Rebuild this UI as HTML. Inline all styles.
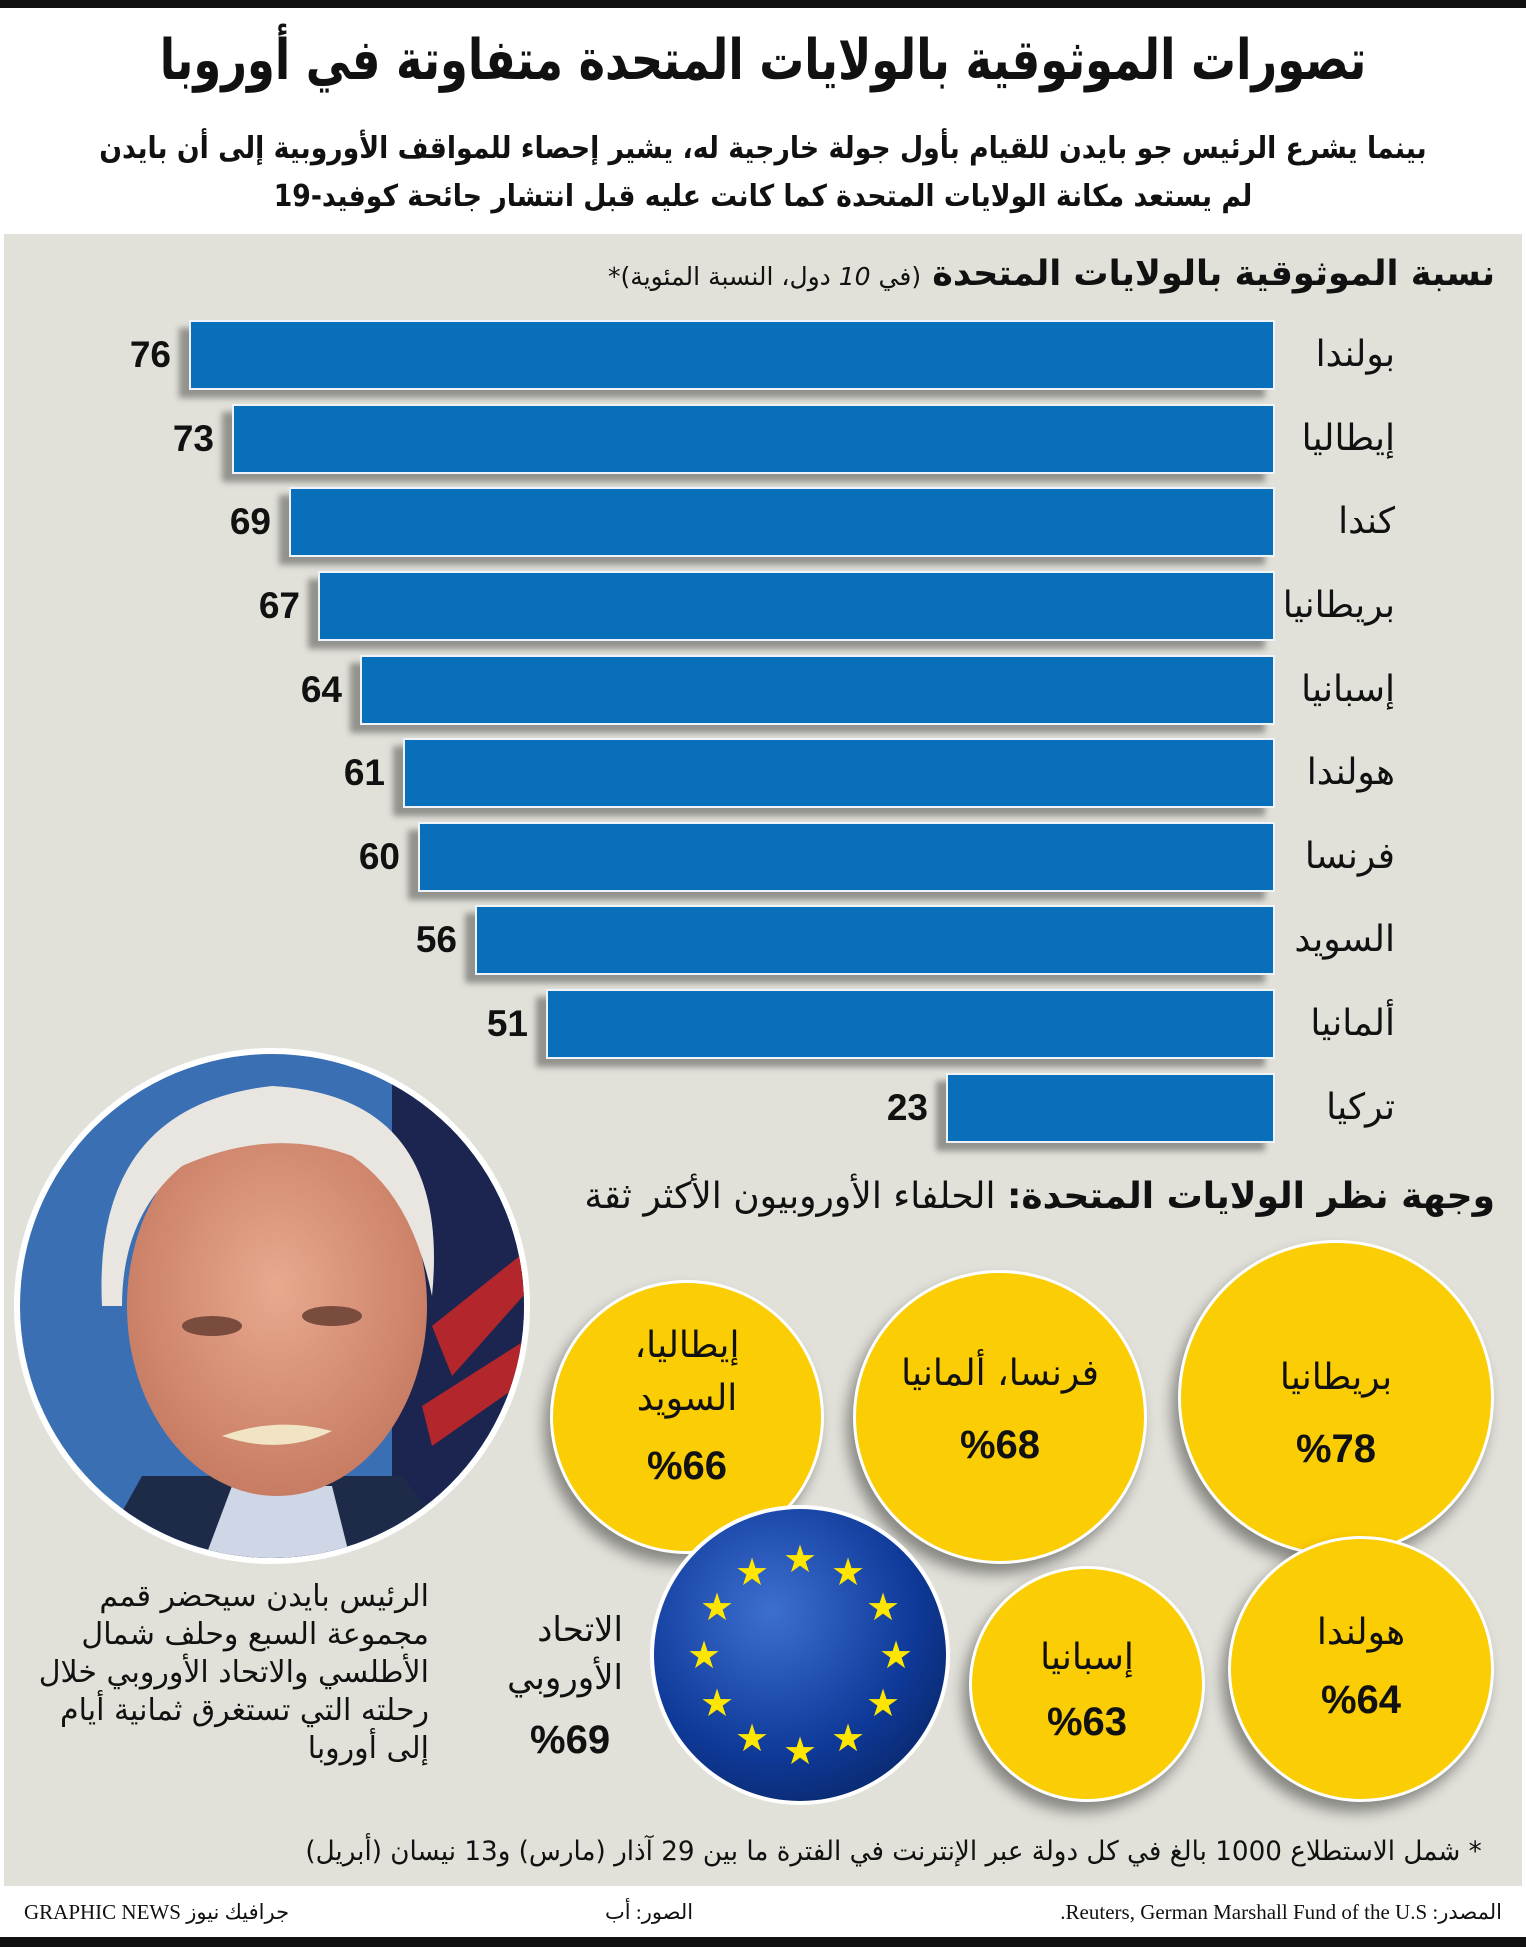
<!DOCTYPE html>
<html><head><meta charset="utf-8">
<style>
*{margin:0;padding:0;box-sizing:border-box}
body{width:1526px;height:1947px;background:#fff;position:relative;overflow:hidden;font-family:"DejaVu Sans","Liberation Sans",sans-serif;color:#111}
.a{position:absolute;white-space:nowrap}
.r{direction:rtl;text-align:right}
.bar{position:absolute;background:#0a6fba;border:2px solid #eef4fa;box-shadow:-10px 8px 6px rgba(0,0,0,.35)}
.lab{position:absolute;right:131px;font-size:36px;direction:rtl;line-height:40px}
.val{position:absolute;font-family:"Liberation Sans",sans-serif;font-weight:bold;font-size:37px;line-height:40px;text-align:right;width:100px}
.c{position:absolute;border-radius:50%;background:#fbcd05;border:3px solid #fff;box-shadow:-6px 10px 14px rgba(0,0,0,.4)}
.ct{position:absolute;width:100%;text-align:center;direction:rtl;font-size:36px;line-height:40px}
.cp{position:absolute;width:100%;text-align:center;font-family:"Liberation Sans",sans-serif;font-weight:bold;font-size:40px;line-height:44px}
</style></head><body>
<div class="a" style="left:0;top:0;width:1526px;height:8px;background:#111"></div>
<div class="a r" style="left:0;width:1526px;text-align:center;top:26px;font-size:56px;font-weight:bold;line-height:70px;transform:scaleX(0.8);transform-origin:763px 0">تصورات الموثوقية بالولايات المتحدة متفاوتة في أوروبا</div>
<div class="a r" style="left:0;width:1526px;text-align:center;top:128px;font-size:30px;font-weight:bold;line-height:42px;transform:scaleX(0.89);transform-origin:763px 0">بينما يشرع الرئيس جو بايدن للقيام بأول جولة خارجية له، يشير إحصاء للمواقف الأوروبية إلى أن بايدن</div>
<div class="a r" style="left:0;width:1526px;text-align:center;top:176px;font-size:30px;font-weight:bold;line-height:42px;transform:scaleX(0.89);transform-origin:763px 0">لم يستعد مكانة الولايات المتحدة كما كانت عليه قبل انتشار جائحة كوفيد-19</div>
<div class="a" style="left:4px;top:234px;width:1518px;height:1652px;background:#e1e0d9"></div>
<div class="a r" style="right:31px;top:252px;font-size:35px;line-height:44px"><b>نسبة الموثوقية بالولايات المتحدة</b> <span style="font-size:25px">(في <i>10</i> دول، النسبة المئوية)*</span></div>

<div class="bar" style="left:189px;top:320px;width:1086px;height:70px"></div>
<div class="bar" style="left:232px;top:404px;width:1043px;height:70px"></div>
<div class="bar" style="left:289px;top:487px;width:986px;height:70px"></div>
<div class="bar" style="left:318px;top:571px;width:957px;height:70px"></div>
<div class="bar" style="left:360px;top:655px;width:915px;height:70px"></div>
<div class="bar" style="left:403px;top:738px;width:872px;height:70px"></div>
<div class="bar" style="left:418px;top:822px;width:857px;height:70px"></div>
<div class="bar" style="left:475px;top:905px;width:800px;height:70px"></div>
<div class="bar" style="left:546px;top:989px;width:729px;height:70px"></div>
<div class="bar" style="left:946px;top:1073px;width:329px;height:70px"></div>

<div class="lab" style="top:335px">بولندا</div>
<div class="lab" style="top:419px">إيطاليا</div>
<div class="lab" style="top:502px">كندا</div>
<div class="lab" style="top:586px">بريطانيا</div>
<div class="lab" style="top:670px">إسبانيا</div>
<div class="lab" style="top:753px">هولندا</div>
<div class="lab" style="top:837px">فرنسا</div>
<div class="lab" style="top:920px">السويد</div>
<div class="lab" style="top:1004px">ألمانيا</div>
<div class="lab" style="top:1088px">تركيا</div>

<div class="val" style="left:71px;top:335px">76</div>
<div class="val" style="left:114px;top:419px">73</div>
<div class="val" style="left:171px;top:502px">69</div>
<div class="val" style="left:200px;top:586px">67</div>
<div class="val" style="left:242px;top:670px">64</div>
<div class="val" style="left:285px;top:753px">61</div>
<div class="val" style="left:300px;top:837px">60</div>
<div class="val" style="left:357px;top:920px">56</div>
<div class="val" style="left:428px;top:1004px">51</div>
<div class="val" style="left:828px;top:1088px">23</div>

<div class="a r" style="right:31px;top:1174px;font-size:36px;line-height:46px"><b>وجهة نظر الولايات المتحدة:</b> الحلفاء الأوروبيون الأكثر ثقة</div>

<div class="c" style="left:1178px;top:1240px;width:316px;height:316px"><div class="ct" style="top:115px">بريطانيا</div><div class="cp" style="top:184px">%78</div></div>
<div class="c" style="left:853px;top:1270px;width:294px;height:294px"><div class="ct" style="top:81px">فرنسا، ألمانيا</div><div class="cp" style="top:150px">%68</div></div>
<div class="c" style="left:550px;top:1280px;width:274px;height:274px"><div class="ct" style="top:43px">إيطاليا،</div><div class="ct" style="top:96px">السويد</div><div class="cp" style="top:161px">%66</div></div>
<div class="c" style="left:1228px;top:1536px;width:266px;height:266px"><div class="ct" style="top:74px">هولندا</div><div class="cp" style="top:139px">%64</div></div>
<div class="c" style="left:969px;top:1566px;width:236px;height:236px"><div class="ct" style="top:69px">إسبانيا</div><div class="cp" style="top:131px">%63</div></div>

<svg class="a" style="left:645px;top:1500px" width="310" height="310" viewBox="0 0 310 310">
<defs><radialGradient id="eu" cx="40%" cy="35%" r="70%"><stop offset="0" stop-color="#3d6fd0"/><stop offset="0.7" stop-color="#0f3a9a"/><stop offset="1" stop-color="#0a2a70"/></radialGradient></defs>
<circle cx="155" cy="155" r="150" fill="#fff"/>
<circle cx="155" cy="155" r="146" fill="url(#eu)"/>
<g fill="#ffe600" font-size="38" font-family="DejaVu Sans" text-anchor="middle">
<text x="155" y="72">★</text><text x="203" y="85">★</text><text x="238" y="120">★</text><text x="251" y="168">★</text><text x="238" y="216">★</text><text x="203" y="251">★</text><text x="155" y="264">★</text><text x="107" y="251">★</text><text x="72" y="216">★</text><text x="59" y="168">★</text><text x="72" y="120">★</text><text x="107" y="85">★</text>
</g></svg>

<div class="a r" style="right:903px;top:1606px;font-size:34px;line-height:48px">الاتحاد<br>الأوروبي</div>
<div class="a" style="left:530px;top:1718px;font-family:'Liberation Sans',sans-serif;font-weight:bold;font-size:40px">%69</div>

<svg class="a" style="left:12px;top:1046px" width="520" height="520" viewBox="0 0 520 520">
<defs><clipPath id="cp"><circle cx="260" cy="260" r="252"/></clipPath>
<radialGradient id="sk" cx="50%" cy="45%" r="55%"><stop offset="0" stop-color="#e8a98e"/><stop offset="1" stop-color="#c77c63"/></radialGradient></defs>
<circle cx="260" cy="260" r="258" fill="#fff"/>
<g clip-path="url(#cp)">
<rect width="520" height="520" fill="#3a6fb3"/>
<rect x="380" width="140" height="520" fill="#1c2550"/>
<path d="M420 280 L520 200 L520 240 L440 330Z" fill="#b3262b"/>
<path d="M410 360 L520 290 L520 330 L420 400Z" fill="#b3262b"/>
<path d="M80 520 L130 430 L390 430 L460 520Z" fill="#1e2b48"/>
<path d="M190 520 L220 440 L320 440 L340 520Z" fill="#cfd6e6"/>
<ellipse cx="265" cy="260" rx="150" ry="190" fill="url(#sk)"/>
<path d="M90 260 Q80 60 260 40 Q440 50 420 250 Q400 150 340 110 Q260 80 170 120 Q110 170 110 260Z" fill="#e9e6e2"/>
<ellipse cx="200" cy="280" rx="30" ry="10" fill="#7a4c3e"/>
<ellipse cx="320" cy="270" rx="30" ry="10" fill="#7a4c3e"/>
<path d="M210 390 Q265 370 320 385 Q270 410 210 390Z" fill="#f0e4c4"/>
</g></svg>

<div class="a r" style="right:1097px;top:1578px;font-size:30px;line-height:38px">الرئيس بايدن سيحضر قمم<br>مجموعة السبع وحلف شمال<br>الأطلسي والاتحاد الأوروبي خلال<br>رحلته التي تستغرق ثمانية أيام<br>إلى أوروبا</div>

<div class="a r" style="right:44px;top:1834px;font-size:27px;line-height:36px;transform:scaleX(0.97);transform-origin:100% 0">* شمل الاستطلاع 1000 بالغ في كل دولة عبر الإنترنت في الفترة ما بين 29 آذار (مارس) و13 نيسان (أبريل)</div>

<div class="a r" style="right:24px;top:1900px;font-size:21px;font-family:'Liberation Serif','DejaVu Sans',serif">المصدر: Reuters, German Marshall Fund of the U.S.</div>
<div class="a r" style="left:605px;top:1900px;font-size:21px;font-family:'Liberation Serif','DejaVu Sans',serif">الصور: أب</div>
<div class="a" style="left:24px;top:1900px;font-size:21px;font-family:'Liberation Serif','DejaVu Sans',serif;direction:rtl">جرافيك نيوز GRAPHIC NEWS</div>
<div class="a" style="left:0;top:1937px;width:1526px;height:10px;background:#111"></div>
</body></html>
